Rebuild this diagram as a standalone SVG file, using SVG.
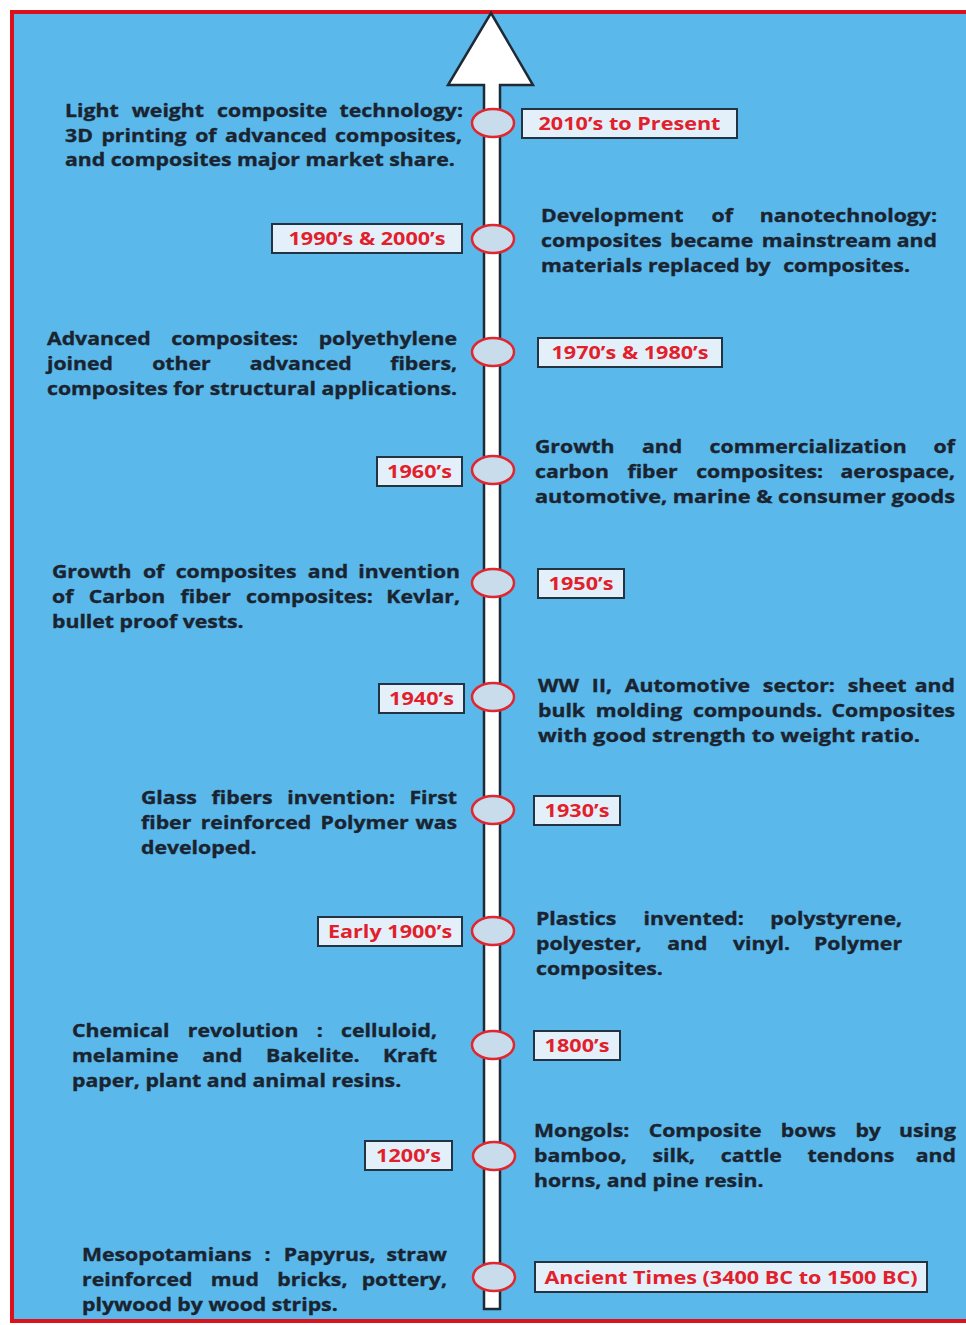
<svg xmlns="http://www.w3.org/2000/svg" width="966" height="1325" viewBox="0 0 966 1325">
<style>
.d{font-family:"Open Sans","Liberation Sans",sans-serif;font-weight:700;font-size:18px;fill:#1A2431;stroke:#1A2431;stroke-width:0.35}
.e{text-anchor:end}
.lb{fill:#E3F0F9;stroke:#243342;stroke-width:2}
.lt{font-family:"Open Sans","Liberation Sans",sans-serif;font-weight:700;font-size:18px;fill:#E2202B;text-anchor:middle}
.dot{fill:#C9DCEC;stroke:#E0262E;stroke-width:2.5}
</style>
<rect x="0" y="0" width="966" height="1325" fill="#ffffff"/>
<rect x="12" y="12" width="980" height="1309" fill="#5BB8EA" stroke="#D9121B" stroke-width="4"/>
<g id="connectors">
<path id="timeline" d="M491,13 L533,85 L500,85 L500,1309 L484,1309 L484,85 L448,85 Z" fill="#FFFFFF" stroke="#1E2A36" stroke-width="2.5" stroke-linejoin="miter"/>
</g>
<g id="e2010">
<ellipse class="dot" cx="493" cy="123" rx="21" ry="14"/>
<rect class="lb" x="522" y="109" width="215" height="29"/>
<text class="lt" transform="translate(629.5 0) scale(1.2 1)" x="0" y="130">2010’s to Present</text>
<g transform="translate(65 0) scale(1.18 1)">
<text class="d" y="117"><tspan x="0" word-spacing="6.4">Light weight composite</tspan><tspan class="e" x="337.3">technology:</tspan></text>
<text class="d" y="142"><tspan x="0" word-spacing="2.6">3D printing  of advanced</tspan><tspan class="e" x="336.4">composites,</tspan></text>
<text class="d" x="0" y="166">and composites major market share.</text>
</g>
</g>
<g id="e1990">
<ellipse class="dot" cx="493" cy="239" rx="21" ry="14"/>
<rect class="lb" x="272" y="224" width="190" height="29"/>
<text class="lt" transform="translate(367 0) scale(1.2 1)" x="0" y="245">1990’s &amp; 2000’s</text>
<g transform="translate(541 0) scale(1.18 1)">
<text class="d" y="222"><tspan x="0" word-spacing="19.1">Development of</tspan><tspan class="e" x="335.6">nanotechnology:</tspan></text>
<text class="d" y="247"><tspan x="0" word-spacing="2.5">composites became mainstream</tspan><tspan class="e" x="335.6">and</tspan></text>
<text class="d" y="272"><tspan x="0">materials replaced by</tspan><tspan class="e" x="312.7">composites.</tspan></text>
</g>
</g>
<g id="e1970">
<ellipse class="dot" cx="493" cy="352" rx="21" ry="14"/>
<rect class="lb" x="538" y="338" width="184" height="29"/>
<text class="lt" transform="translate(630 0) scale(1.2 1)" x="0" y="359">1970’s &amp; 1980’s</text>
<g transform="translate(47 0) scale(1.18 1)">
<text class="d" y="345"><tspan x="0" word-spacing="12.6">Advanced composites:</tspan><tspan class="e" x="347.5">polyethylene</tspan></text>
<text class="d" y="370"><tspan x="0" word-spacing="28.5">joined other advanced</tspan><tspan class="e" x="347.5">fibers,</tspan></text>
<text class="d" x="0" y="395" textLength="347.5" lengthAdjust="spacingAndGlyphs">composites for structural applications.</text>
</g>
</g>
<g id="e1960">
<ellipse class="dot" cx="493" cy="470" rx="21" ry="14"/>
<rect class="lb" x="377" y="457" width="85" height="29"/>
<text class="lt" transform="translate(419.5 0) scale(1.2 1)" x="0" y="478">1960’s</text>
<g transform="translate(535 0) scale(1.18 1)">
<text class="d" y="453"><tspan x="0" word-spacing="18.6">Growth and commercialization</tspan><tspan class="e" x="355.9">of</tspan></text>
<text class="d" y="478"><tspan x="0" word-spacing="11">carbon fiber composites:</tspan><tspan class="e" x="355.9">aerospace,</tspan></text>
<text class="d" x="0" y="503" textLength="355.9" lengthAdjust="spacingAndGlyphs">automotive, marine &amp; consumer goods</text>
</g>
</g>
<g id="e1950">
<ellipse class="dot" cx="493" cy="583" rx="21" ry="14"/>
<rect class="lb" x="538" y="569" width="86" height="29"/>
<text class="lt" transform="translate(581 0) scale(1.2 1)" x="0" y="590">1950’s</text>
<g transform="translate(52 0) scale(1.18 1)">
<text class="d" y="578"><tspan x="0" word-spacing="5">Growth of composites and</tspan><tspan class="e" x="345.8">invention</tspan></text>
<text class="d" y="603"><tspan x="0" word-spacing="8.3">of Carbon fiber composites:</tspan><tspan class="e" x="345.8">Kevlar,</tspan></text>
<text class="d" x="0" y="628">bullet proof vests.</text>
</g>
</g>
<g id="e1940">
<ellipse class="dot" cx="493" cy="697" rx="21" ry="14"/>
<rect class="lb" x="379" y="684" width="85" height="29"/>
<text class="lt" transform="translate(421.5 0) scale(1.2 1)" x="0" y="705">1940’s</text>
<g transform="translate(538 0) scale(1.18 1)">
<text class="d" y="692"><tspan x="0" word-spacing="6.2">WW II, Automotive sector: sheet</tspan><tspan class="e" x="353.4">and</tspan></text>
<text class="d" y="717"><tspan x="0" word-spacing="4.5">bulk molding compounds.</tspan><tspan class="e" x="353.4">Composites</tspan></text>
<text class="d" x="0" y="742" textLength="323.7" lengthAdjust="spacingAndGlyphs">with good strength to weight ratio.</text>
</g>
</g>
<g id="e1930">
<ellipse class="dot" cx="493" cy="810" rx="21" ry="14"/>
<rect class="lb" x="534" y="796" width="86" height="29"/>
<text class="lt" transform="translate(577 0) scale(1.2 1)" x="0" y="817">1930’s</text>
<g transform="translate(141 0) scale(1.18 1)">
<text class="d" y="804"><tspan x="0" word-spacing="7.9">Glass fibers invention:</tspan><tspan class="e" x="267.8">First</tspan></text>
<text class="d" y="829"><tspan x="0" word-spacing="3.3">fiber reinforced Polymer</tspan><tspan class="e" x="267.8">was</tspan></text>
<text class="d" x="0" y="854">developed.</text>
</g>
</g>
<g id="e1900">
<ellipse class="dot" cx="493" cy="931" rx="21" ry="14"/>
<rect class="lb" x="318" y="917" width="144" height="29"/>
<text class="lt" transform="translate(390 0) scale(1.2 1)" x="0" y="938">Early 1900’s</text>
<g transform="translate(536 0) scale(1.18 1)">
<text class="d" y="925"><tspan x="0" word-spacing="18.4">Plastics invented:</tspan><tspan class="e" x="310.2">polystyrene,</tspan></text>
<text class="d" y="950"><tspan x="0" word-spacing="17">polyester, and vinyl.</tspan><tspan class="e" x="310.2">Polymer</tspan></text>
<text class="d" x="0" y="975">composites.</text>
</g>
</g>
<g id="e1800">
<ellipse class="dot" cx="493" cy="1045" rx="21" ry="14"/>
<rect class="lb" x="534" y="1031" width="86" height="29"/>
<text class="lt" transform="translate(577 0) scale(1.2 1)" x="0" y="1052">1800’s</text>
<g transform="translate(72 0) scale(1.18 1)">
<text class="d" y="1037"><tspan x="0" word-spacing="10.8">Chemical revolution :</tspan><tspan class="e" x="309.3">celluloid,</tspan></text>
<text class="d" y="1062"><tspan x="0" word-spacing="15.4">melamine and Bakelite.</tspan><tspan class="e" x="309.3">Kraft</tspan></text>
<text class="d" x="0" y="1087">paper, plant and animal resins.</text>
</g>
</g>
<g id="e1200">
<ellipse class="dot" cx="494" cy="1156" rx="21" ry="14"/>
<rect class="lb" x="365" y="1141" width="87" height="29"/>
<text class="lt" transform="translate(408.5 0) scale(1.2 1)" x="0" y="1162">1200’s</text>
<g transform="translate(534 0) scale(1.18 1)">
<text class="d" y="1137"><tspan x="0" word-spacing="11.7">Mongols: Composite bows by</tspan><tspan class="e" x="357.6">using</tspan></text>
<text class="d" y="1162"><tspan x="0" word-spacing="17">bamboo, silk, cattle tendons</tspan><tspan class="e" x="357.6">and</tspan></text>
<text class="d" x="0" y="1187">horns, and pine resin.</text>
</g>
</g>
<g id="eancient">
<ellipse class="dot" cx="494" cy="1277" rx="21" ry="14"/>
<rect class="lb" x="535" y="1262" width="392" height="30"/>
<text class="lt" transform="translate(731 0) scale(1.2 1)" x="0" y="1284">Ancient Times (3400 BC to 1500 BC)</text>
<g transform="translate(82 0) scale(1.18 1)">
<text class="d" y="1261"><tspan x="0" word-spacing="6.4">Mesopotamians : Papyrus,</tspan><tspan class="e" x="309.3">straw</tspan></text>
<text class="d" y="1286"><tspan x="0" word-spacing="10.8">reinforced mud bricks,</tspan><tspan class="e" x="309.3">pottery,</tspan></text>
<text class="d" x="0" y="1311">plywood by wood strips.</text>
</g>
</g>
</svg>
